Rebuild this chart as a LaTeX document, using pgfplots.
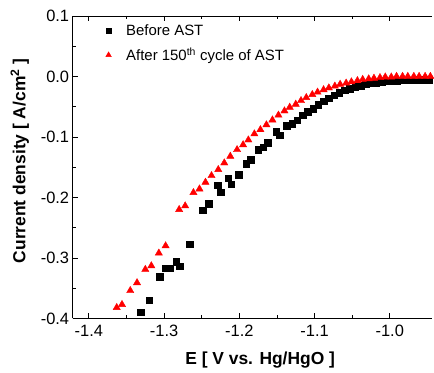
\documentclass[border=0pt]{standalone}
\usepackage{fontspec}
\setmainfont{Liberation Sans}
\usepackage{pgfplots}
\pgfplotsset{compat=1.18}
\begin{document}
\begin{tikzpicture}
\begin{axis}[
  scale only axis,
  width=361pt, height=304pt,
  xmin=-1.4216, xmax=-0.944,
  ymin=-0.4, ymax=0.1,
  axis x line=box, axis y line*=left,
  xtick={-1.4,-1.3,-1.2,-1.1,-1.0},
  ytick={-0.4,-0.3,-0.2,-0.1,0.0,0.1},
  minor x tick num=1, minor y tick num=1,
  tick align=inside,
  major tick length=5pt, minor tick length=3pt,
  tick style={black, line width=0.8pt},
  axis line style={line width=0.8pt},
  /pgf/number format/assume math mode=true,
  /pgf/number format/.cd, fixed, fixed zerofill, precision=1, /pgfplots/.cd,
  tick label style={font=\fontsize{16.5}{18}\selectfont},
  xticklabel style={yshift=-3pt},
  yticklabel style={xshift=0pt},
  xlabel={E [ V vs. Hg/HgO ]},
  ylabel={Current density [ A/cm\textsuperscript{2} ]},
  label style={font=\fontsize{17.5}{20}\selectfont\bfseries},
  xlabel style={at={(axis description cs:0.522,-0.1365)}, anchor=center},
  ylabel style={at={(axis description cs:-0.1468,0.521)}, anchor=center},
  legend style={draw=none, fill=none, at={(axis description cs:0.02,0.985)}, anchor=north west,
    font=\fontsize{15}{17}\selectfont, row sep=7pt},
  legend cell align=left,
]
\addplot[only marks, mark=square*, mark size=3.3pt, black,
  legend image code/.code={\path (0pt,0pt) (41pt,0pt); \draw[black, mark=square*, mark size=2.4pt] plot coordinates {(25.5pt,0pt)};}] coordinates {
(-1.347,-0.402) (-1.331,-0.390) (-1.320,-0.370) (-1.306,-0.331) (-1.298,-0.317)
(-1.292,-0.317) (-1.284,-0.306) (-1.279,-0.314) (-1.266,-0.277) (-1.249,-0.221)
(-1.241,-0.210) (-1.229,-0.180) (-1.225,-0.191) (-1.215,-0.168) (-1.211,-0.178)
(-1.201,-0.162) (-1.191,-0.144) (-1.185,-0.138) (-1.175,-0.121) (-1.168,-0.117)
(-1.162,-0.110) (-1.151,-0.091) (-1.146,-0.097) (-1.137,-0.081) (-1.130,-0.078)
(-1.123,-0.072) (-1.116,-0.064) (-1.109,-0.058) (-1.102,-0.053) (-1.095,-0.047)
(-1.088,-0.041) (-1.081,-0.036) (-1.074,-0.031) (-1.067,-0.027) (-1.060,-0.023)
(-1.053,-0.020) (-1.046,-0.017) (-1.039,-0.015) (-1.032,-0.013) (-1.025,-0.011)
(-1.018,-0.010) (-1.011,-0.009) (-1.004,-0.008) (-0.997,-0.007) (-0.990,-0.007)
(-0.983,-0.006) (-0.976,-0.006) (-0.969,-0.006) (-0.962,-0.005) (-0.955,-0.005)
(-0.948,-0.005)
};
\addlegendentry{Before AST}
\addplot[only marks, mark=triangle*, mark size=4.2pt, red,
  legend image code/.code={\path (0pt,0pt) (41pt,0pt); \draw[red, mark=triangle*, mark size=3.2pt] plot coordinates {(25.5pt,0pt)};}] coordinates {
(-1.363,-0.382) (-1.356,-0.377) (-1.345,-0.354) (-1.336,-0.341) (-1.325,-0.319)
(-1.317,-0.313) (-1.307,-0.292) (-1.298,-0.280) (-1.280,-0.220) (-1.272,-0.214)
(-1.261,-0.192) (-1.253,-0.186) (-1.245,-0.175) (-1.237,-0.164) (-1.228,-0.154)
(-1.220,-0.143) (-1.212,-0.132) (-1.203,-0.121) (-1.195,-0.113) (-1.188,-0.105)
(-1.180,-0.095) (-1.172,-0.088) (-1.164,-0.080) (-1.156,-0.072) (-1.148,-0.064)
(-1.140,-0.057) (-1.133,-0.051) (-1.125,-0.046) (-1.118,-0.040) (-1.111,-0.035)
(-1.103,-0.030) (-1.096,-0.026) (-1.088,-0.022) (-1.081,-0.019) (-1.073,-0.016)
(-1.066,-0.013) (-1.058,-0.011) (-1.051,-0.009) (-1.043,-0.007) (-1.036,-0.005)
(-1.028,-0.004) (-1.021,-0.003) (-1.013,-0.002) (-1.006,-0.001) (-0.998,-0.001)
(-0.991,0.000) (-0.983,0.000) (-0.976,0.000) (-0.968,0.000) (-0.961,0.000)
(-0.953,0.000) (-0.946,0.000)
};
\addlegendentry{After 150\textsuperscript{th} cycle of AST}
\end{axis}
\path (current axis.south west) ++(-73pt,-54pt) rectangle ++(434pt,374pt);
\end{tikzpicture}
\end{document}
